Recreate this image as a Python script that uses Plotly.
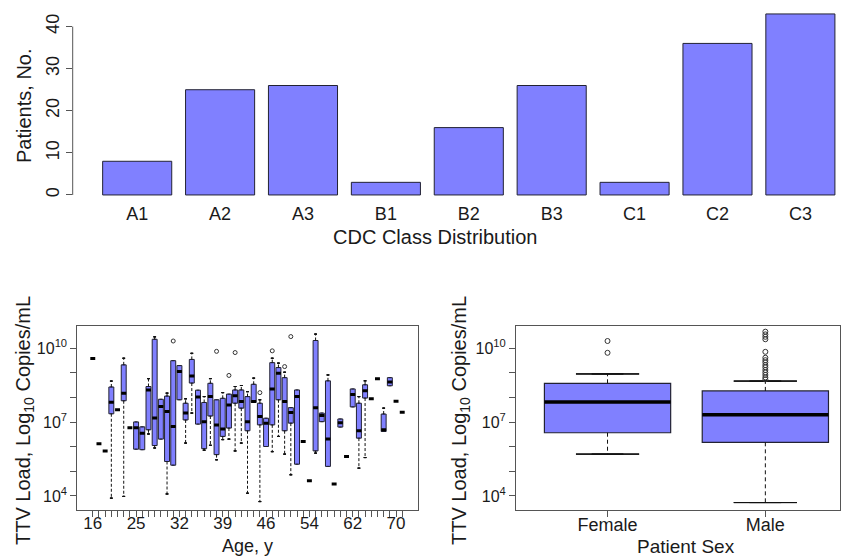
import plotly.graph_objects as go

# ---------------- data ----------------
cdc_classes = ["A1", "A2", "A3", "B1", "B2", "B3", "C1", "C2", "C3"]
cdc_patients = [8, 25, 26, 3, 16, 26, 3, 36, 43]

# TTV load by age (values in log10 copies/mL); None = not applicable
age_years = [16, 17, 18, 19, 20, 21, 23, 25, 26, 27, 28, 29, 30, 31, 32, 33, 34, 35,
             36, 37, 38, 39, 40, 41, 42, 43, 44, 45, 46, 47, 48, 49, 50, 51, 52, 54,
             55, 56, 57, 58, 59, 60, 62, 63, 64, 65, 66, 67, 68, 70, 72]
age_labels = [16, 25, 32, 39, 46, 54, 62, 70]
age_median = [9.59, 6.12, 5.83, 7.81, 7.50, 8.18, 6.77, 6.77, 6.55, 8.31, 7.17, 7.64, 7.43,
              6.82, 9.06, 7.37, 8.88, 8.02, 7.02, 8.04, 6.88, 6.72, 7.70, 8.07, 7.84, 7.02,
              7.84, 7.23, 6.96, 8.35, 8.99, 7.84, 7.39, 8.04, 6.21, 4.62, 7.59, 7.27, 6.31,
              4.49, 6.98, 5.60, 8.12, 6.65, 8.28, 7.95, 8.76, 6.69, 8.63, 7.85, 7.40]
age_q1 = [None, None, None, 7.34, None, 7.87, None, 5.90, 5.88, 6.69, 6.05, 6.31, 5.40,
          5.25, 7.91, 7.09, 8.59, 6.92, 5.92, 7.25, 5.68, 6.42, 6.76, 7.77, 7.57, 6.65,
          7.80, 6.89, 6.01, 6.89, 7.91, 6.65, 6.96, 5.29, None, None, 5.83, 7.02, 5.20,
          None, 6.80, None, 7.62, 6.35, 7.98, None, None, 6.62, 8.48, None, None]
age_q3 = [None, None, None, 8.43, None, 9.33, None, 7.01, 6.81, 8.45, 10.37, 7.93, 8.06,
          9.50, 9.30, 7.77, 9.55, 8.30, 7.80, 8.58, 7.91, 7.97, 8.14, 8.31, 8.31, 8.04,
          8.54, 7.77, 7.16, 9.42, 9.22, 8.81, 7.59, 8.31, None, None, 10.32, 7.37, 8.68,
          None, 7.13, None, 8.35, 7.77, 8.52, None, None, 7.33, 8.81, None, None]
age_low = [None, None, None, 3.91, None, 3.98, None, None, None, 6.52, 5.95, None, 4.08,
           None, None, 6.15, 7.37, None, 5.86, 6.06, 5.47, 6.29, 6.31, 5.83, 6.15, 4.11,
           None, 3.77, None, 5.80, 6.42, 5.70, 4.86, None, None, None, 5.74, None, None,
           None, None, None, None, 5.13, 5.56, None, None, None, None, None, None]
age_high = [None, None, None, 8.67, None, 9.60, None, None, None, 8.77, 10.47, None, 8.18,
            None, None, 7.95, 9.80, None, 8.04, 8.77, None, 8.20, None, 8.45, 8.49, 8.24,
            8.79, 7.91, None, 9.60, 9.40, 9.03, None, None, None, None, 10.58, None, 8.92,
            None, None, None, None, 8.04, 8.68, None, None, 7.57, None, None, None]
age_outlier_age = [31, 38, 40, 41, 45, 47, 49, 50]
age_outlier_val = [10.30, 9.88, 8.90, 9.83, 8.20, 9.90, 9.26, 10.48]

# TTV load by sex (log10 copies/mL)
sexes = ["Female", "Male"]
sex_q1 = [6.57, 6.18]
sex_median = [7.82, 7.30]
sex_q3 = [8.58, 8.27]
sex_low = [5.70, 3.73]
sex_high = [8.96, 8.67]
female_outliers = [9.82, 10.30]
male_outliers = [8.74, 8.82, 8.92, 9.02, 9.12, 9.23, 9.32, 9.43, 9.52, 9.62, 9.86,
                 10.37, 10.47, 10.57, 10.68]

y_decades = [4, 5, 6, 7, 8, 9, 10]
y_labelled = [4, 7, 10]
bar_ticks = [0, 10, 20, 30, 40]

# ---------------- style ----------------
W, H = 841, 556
FONT = "Liberation Sans, Arial, sans-serif"
FILL = "#8080FF"
EDGE = "#222233"
AX = "#555555"
TXT = "#1a1a1a"


def px(x):
    return x / W


def py(y):
    return 1 - y / H


fig = go.Figure()

# ---------- top: bar chart ----------
fig.add_trace(go.Bar(x=cdc_classes, y=cdc_patients, width=1 / 1.2,
                     marker=dict(color=FILL, line=dict(color=EDGE, width=1)),
                     xaxis="x", yaxis="y", showlegend=False))

# ---------- bottom-left: by age ----------
ages_s = [str(a) for a in age_years]
bx, bq1, bmed, bq3 = [], [], [], []
for a, q1, m, q3 in zip(ages_s, age_q1, age_median, age_q3):
    if q1 is not None:
        bx.append(a); bq1.append(10 ** q1); bmed.append(10 ** m); bq3.append(10 ** q3)
fig.add_trace(go.Box(x=bx, q1=bq1, median=bmed, q3=bq3, lowerfence=bq1, upperfence=bq3,
                     width=0.8, fillcolor=FILL, line=dict(color=EDGE, width=1),
                     xaxis="x2", yaxis="y2", showlegend=False, hoverinfo="skip"))

wx, wy, cx, cy = [], [], [], []
for a, q1, q3, lo, hi in zip(ages_s, age_q1, age_q3, age_low, age_high):
    if lo is not None:
        wx += [a, a, None]; wy += [10 ** q1, 10 ** lo, None]
        cx.append(a); cy.append(10 ** lo)
    if hi is not None:
        wx += [a, a, None]; wy += [10 ** q3, 10 ** hi, None]
        cx.append(a); cy.append(10 ** hi)
fig.add_trace(go.Scatter(x=wx, y=wy, mode="lines", line=dict(color="#111", width=1, dash="3px,2px"),
                         xaxis="x2", yaxis="y2", showlegend=False, hoverinfo="skip"))
fig.add_trace(go.Box(x=cx, q1=cy, median=cy, q3=cy, lowerfence=cy, upperfence=cy, width=0.45,
                     fillcolor="rgba(0,0,0,0)", line=dict(color="#111", width=1),
                     xaxis="x2", yaxis="y2", showlegend=False, hoverinfo="skip"))
med_y = [10 ** m for m in age_median]
fig.add_trace(go.Box(x=ages_s, q1=med_y, median=med_y, q3=med_y, lowerfence=med_y, upperfence=med_y,
                     width=0.8, fillcolor="rgba(0,0,0,0)", line=dict(color="#000", width=3),
                     xaxis="x2", yaxis="y2", showlegend=False, hoverinfo="skip"))
fig.add_trace(go.Scatter(x=[str(a) for a in age_outlier_age], y=[10 ** v for v in age_outlier_val],
                         mode="markers", marker=dict(symbol="circle-open", size=4, color="#333",
                                                     line=dict(width=1)),
                         xaxis="x2", yaxis="y2", showlegend=False, hoverinfo="skip"))

# ---------- bottom-right: by sex ----------
fig.add_trace(go.Box(x=sexes, q1=[10 ** v for v in sex_q1], median=[10 ** v for v in sex_median],
                     q3=[10 ** v for v in sex_q3], lowerfence=[10 ** v for v in sex_q1],
                     upperfence=[10 ** v for v in sex_q3], width=0.8, fillcolor=FILL,
                     line=dict(color=EDGE, width=1.2),
                     xaxis="x3", yaxis="y3", showlegend=False, hoverinfo="skip"))
swx, swy, scx, scy = [], [], [], []
for s, q1, q3, lo, hi in zip(sexes, sex_q1, sex_q3, sex_low, sex_high):
    swx += [s, s, None, s, s, None]
    swy += [10 ** q1, 10 ** lo, None, 10 ** q3, 10 ** hi, None]
    scx += [s, s]; scy += [10 ** lo, 10 ** hi]
fig.add_trace(go.Scatter(x=swx, y=swy, mode="lines", line=dict(color="#111", width=1, dash="4px,3px"),
                         xaxis="x3", yaxis="y3", showlegend=False, hoverinfo="skip"))
fig.add_trace(go.Box(x=scx, q1=scy, median=scy, q3=scy, lowerfence=scy, upperfence=scy, width=0.4,
                     fillcolor="rgba(0,0,0,0)", line=dict(color="#111", width=1),
                     xaxis="x3", yaxis="y3", showlegend=False, hoverinfo="skip"))
smed = [10 ** v for v in sex_median]
fig.add_trace(go.Box(x=sexes, q1=smed, median=smed, q3=smed, lowerfence=smed, upperfence=smed,
                     width=0.8, fillcolor="rgba(0,0,0,0)", line=dict(color="#000", width=3.5),
                     xaxis="x3", yaxis="y3", showlegend=False, hoverinfo="skip"))
ox = ["Female"] * len(female_outliers) + ["Male"] * len(male_outliers)
oy = [10 ** v for v in female_outliers + male_outliers]
fig.add_trace(go.Scatter(x=ox, y=oy, mode="markers",
                         marker=dict(symbol="circle-open", size=5, color="#333", line=dict(width=1)),
                         xaxis="x3", yaxis="y3", showlegend=False, hoverinfo="skip"))

# ---------------- layout ----------------
tickfont = dict(family=FONT, size=18, color=TXT)
ytick_vals = [10 ** k for k in y_decades]
ytick_text = [("10<sup>%d</sup>" % k) if k in y_labelled else "" for k in y_decades]
log_y = dict(type="log", range=[3.44, 10.91], tickmode="array", tickvals=ytick_vals,
             ticktext=ytick_text, ticks="outside", ticklen=6, tickcolor=AX,
             showline=True, linecolor=AX, linewidth=1, mirror=True, showgrid=False,
             zeroline=False, tickfont=dict(family=FONT, size=16, color=TXT),
             domain=[py(509.7), py(326)])

fig.update_layout(
    width=W, height=H, margin=dict(l=0, r=0, t=0, b=0), autosize=False,
    paper_bgcolor="white", plot_bgcolor="white", boxmode="overlay",
    font=dict(family=FONT, color=TXT),
    xaxis=dict(domain=[px(72.7), 1.0], anchor="y", type="category", range=[-0.778, 8.49],
               showline=False, showgrid=False, zeroline=False, ticks="outside",
               ticklen=2, tickcolor="rgba(0,0,0,0)", tickfont=tickfont, ticklabelstandoff=-7),
    yaxis=dict(domain=[py(202.2), py(6.7)], anchor="x", range=[-1.72, 44.72],
               tickmode="array", tickvals=bar_ticks, ticks="outside", ticklen=6, tickcolor=AX,
               tickangle=-90, showline=False, showgrid=False, zeroline=False, tickfont=tickfont),
    xaxis2=dict(domain=[px(77.3), px(417.7)], anchor="y2", type="category",
                categoryorder="array", categoryarray=ages_s, range=[-2.5, 52.5],
                tickmode="array", tickvals=ages_s,
                ticktext=[str(a) if a in age_labels else "" for a in age_years],
                ticks="outside", ticklen=6, tickcolor=AX, showline=True, linecolor=AX,
                mirror=True, showgrid=False, zeroline=False,
                tickfont=dict(family=FONT, size=17, color=TXT), ticklabelstandoff=-8),
    yaxis2=dict(anchor="x2", **log_y),
    xaxis3=dict(domain=[px(516), px(840)], anchor="y3", type="category",
                categoryorder="array", categoryarray=sexes, range=[-0.58, 1.473],
                ticks="outside", ticklen=6, tickcolor=AX, showline=True, linecolor=AX,
                mirror=True, showgrid=False, zeroline=False, tickfont=tickfont,
                ticklabelstandoff=-7),
    yaxis3=dict(anchor="x3", **log_y),
)

# y-axis line of the bar chart, spanning the labelled tick range
fig.add_shape(type="line", xref="x domain", yref="y", x0=0, x1=0, y0=bar_ticks[0], y1=bar_ticks[-1],
              line=dict(color=AX, width=1))

ann = [
    ("Patients, No.", 24, 106, 20, -90),
    ("CDC Class Distribution", 435, 237, 20, 0),
    ("TTV Load, Log<sub>10</sub> Copies/mL", 24, 421, 20, -90),
    ("Age, y", 247, 546, 18, 0),
    ("TTV Load, Log<sub>10</sub> Copies/mL", 460, 421, 20, -90),
    ("Patient Sex", 686, 546, 19, 0),
]
for text, x, y, size, ang in ann:
    fig.add_annotation(text=text, x=px(x), y=py(y), xref="paper", yref="paper", showarrow=False,
                       textangle=ang, font=dict(family=FONT, size=size, color=TXT),
                       xanchor="center", yanchor="middle")

fig.write_html("out.html")
